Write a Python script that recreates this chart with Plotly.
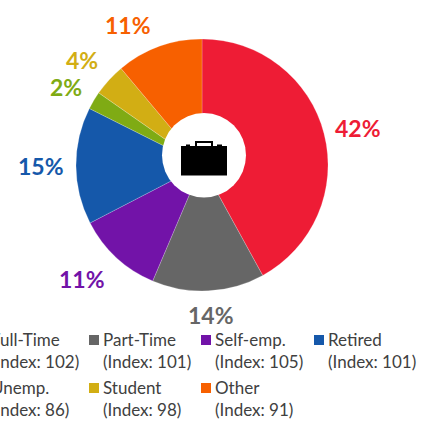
import plotly.graph_objects as go

categories = ["Full-Time", "Part-Time", "Self-emp.", "Retired", "Unemp.", "Student", "Other"]
shares = [42, 14.4, 11, 15, 2.3, 4.2, 11.1]
index_values = [102, 101, 105, 101, 86, 98, 91]
colors = ["#EE1C35", "#666666", "#7213A8", "#1558AA", "#7FAB14", "#D2AE14", "#F76000"]

W, H = 435, 422
FONT = "Lato, Carlito, sans-serif"
label_pos = [(358, 128), (211, 315), (82, 279), (41, 166), (66, 87), (82, 60), (128, 25)]
legend_x = [-9, 103, 215, 328, -9, 103, 215]
legend_y = [339.5, 339.5, 339.5, 339.5, 387.5, 387.5, 387.5]


def px(x):
    return x / W


def py(y):
    return 1 - y / H


def rect(x0, y0, x1, y1, color):
    return dict(type="rect", xref="paper", yref="paper", x0=px(x0), x1=px(x1), y0=py(y1), y1=py(y0),
                fillcolor=color, line_width=0, layer="above")


fig = go.Figure(go.Pie(
    labels=categories, values=shares, sort=False, direction="clockwise", rotation=0,
    marker=dict(colors=colors, line=dict(color="rgba(255,255,255,0.4)", width=0.5)),
    textinfo="none", hoverinfo="label+percent", showlegend=False,
    domain=dict(x=[px(76), px(328)], y=[py(291), py(39)]),
))

shapes = [
    dict(type="circle", xref="paper", yref="paper", x0=px(162), x1=px(246), y0=py(197.5), y1=py(113),
         fillcolor="white", line_width=0, layer="above"),
    rect(186, 144.5, 190, 147, "black"),
    rect(217, 144.5, 222, 147, "black"),
    rect(195, 141, 213, 147, "black"),
    rect(197, 143, 211, 147, "white"),
    rect(181, 146, 227, 175.5, "black"),
]
annotations = []
for i, cat in enumerate(categories):
    annotations.append(dict(
        text=f"<b>{round(shares[i])}%</b>", x=px(label_pos[i][0]), y=py(label_pos[i][1]),
        xref="paper", yref="paper", xanchor="center", yanchor="middle", showarrow=False,
        font=dict(family=FONT, size=23, color=colors[i]),
    ))
    lx, ly = legend_x[i], legend_y[i]
    shapes.append(rect(lx - 14, ly - 4.5, lx - 4, ly + 5.5, colors[i]))
    for text, yy in ((cat, ly), (f"(Index: {index_values[i]})", ly + 22)):
        annotations.append(dict(
            text=text, x=px(lx), y=py(yy), xref="paper", yref="paper", borderpad=0, borderwidth=0,
            xanchor="left", yanchor="middle", showarrow=False, align="left",
            font=dict(family=FONT, size=17, color="#404040"),
        ))

fig.update_layout(
    width=W, height=H, margin=dict(l=0, r=0, t=0, b=0),
    paper_bgcolor="white", plot_bgcolor="white",
    shapes=shapes, annotations=annotations,
)
fig.write_html("out.html", config=dict(displayModeBar=False),
               post_script="document.body.style.margin='0';document.body.style.overflow='hidden';")
